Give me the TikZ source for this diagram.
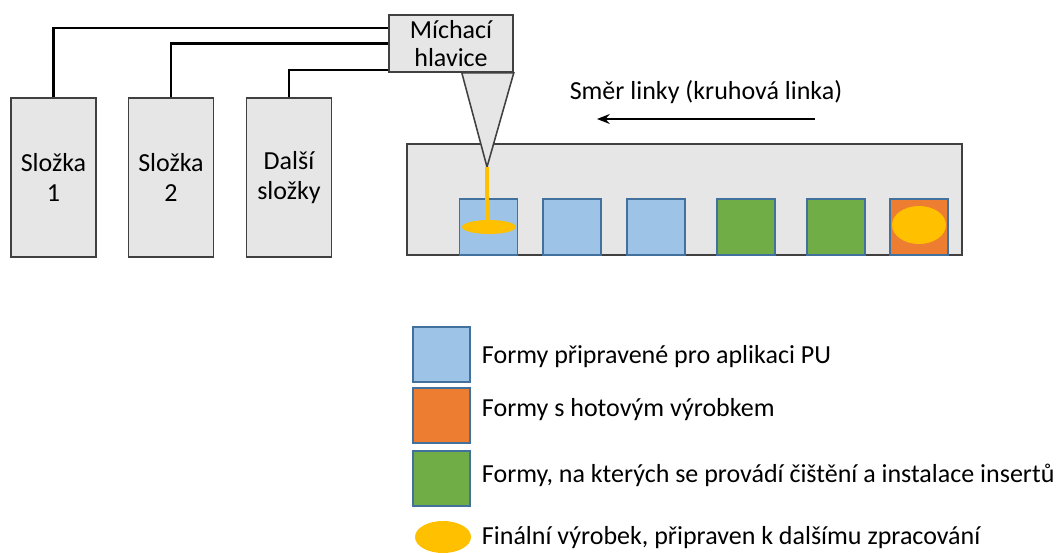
\documentclass[tikz,border=0pt]{standalone}
\usepackage{fontspec}
\setmainfont{Carlito}
\usetikzlibrary{arrows.meta}
\definecolor{boxgray}{HTML}{E6E6E6}
\definecolor{edgegray}{HTML}{404040}
\definecolor{moldblue}{HTML}{9DC3E6}
\definecolor{moldedge}{HTML}{41719C}
\definecolor{moldgreen}{HTML}{70AD47}
\definecolor{moldorange}{HTML}{ED7D31}
\definecolor{puyellow}{HTML}{FFC000}

\begin{document}
\begin{tikzpicture}[x=0.025cm, y=-0.025cm,
    every node/.style={font=\fontsize{18.5}{20.5}\selectfont},
    tank/.style={draw=edgegray, fill=boxgray, line width=1.1pt, minimum width=2.125cm, minimum height=3.975cm, inner sep=0pt, align=center, font=\fontsize{18.5}{21.5}\selectfont},
    mold/.style={draw=moldedge, line width=0.9pt, minimum width=1.45cm, minimum height=1.4cm, inner sep=0pt},
    keybox/.style={draw=moldedge, line width=0.9pt, minimum width=1.425cm, minimum height=1.375cm, inner sep=0pt},
    wire/.style={line width=2pt, black}]
    \useasboundingbox (0,0) rectangle (1062,552);

    % zasobniky a michaci hlava
    \node[tank] (s1) at (53.5,177.5) {Složka\\1};
    \node[tank] (s2) at (171,177.5) {Složka\\2};
    \node[tank] (s3) at (289,177.5) {Další\\složky};
    \node[draw=edgegray, fill=boxgray, line width=1.1pt, minimum width=3.1cm, minimum height=1.425cm, inner sep=0pt, align=center] (mix) at (451,43.5) {Míchací\\hlavice};
    \draw[wire] (s1.north) |- ([yshift=0.3875cm]mix.west);
    \draw[wire] (s2.north) |- (mix.west);
    \draw[wire] (s3.north) |- ([yshift=-0.6625cm]mix.west);

    % kruhova linka
    \node[draw=edgegray, fill=boxgray, line width=1.1pt, minimum width=13.875cm, minimum height=2.775cm, inner sep=0pt] (line) at (684.5,199.5) {};
    \node[mold, fill=moldblue] (m1) at (488.5,227) {};
    \node[mold, fill=moldblue] (m2) at (572,227) {};
    \node[mold, fill=moldblue] (m3) at (656,227) {};
    \node[mold, fill=moldgreen] (m4) at (746,227) {};
    \node[mold, fill=moldgreen] (m5) at (836,227) {};
    \node[mold, fill=moldorange] (m6) at (919,227) {};

    \coordinate (tip) at (487,167);
    \filldraw[draw=edgegray, fill=boxgray, line width=1.1pt] (mix.south east) -- ++(-52,0) -- (tip) -- cycle;
    \draw[puyellow, line width=2.2pt] (tip) -- (487,227);
    \fill[puyellow] (489,227) ellipse [x radius=27, y radius=7];
    \fill[puyellow] (919,225) ellipse [x radius=27, y radius=19];

    \node (dir) at (706,92) {Směr linky (kruhová linka)};
    \coordinate (arrowstart) at (815,119);
    \coordinate (arrowend) at (597,119);
    \draw[-{Stealth[length=9pt, width=7pt]}, line width=2pt] (arrowstart) -- (arrowend);

    % legenda
    \node[keybox, fill=moldblue] (k1) at (441.5,354.5) {};
    \node[keybox, fill=moldorange] (k2) at (441.5,415.5) {};
    \node[keybox, fill=moldgreen] (k3) at (441.5,478.5) {};
    \fill[puyellow] (443,537) ellipse [x radius=28, y radius=16];
    \coordinate (k4) at (443,537);
    \node[anchor=west] at (477,357) {Formy připravené pro aplikaci PU};
    \node[anchor=west] at (477,410) {Formy s hotovým výrobkem};
    \node[anchor=west] at (477,475) {Formy, na kterých se provádí čištění a instalace insertů};
    \node[anchor=west] at (477,538) {Finální výrobek, připraven k dalšímu zpracování};
\end{tikzpicture}
\end{document}
